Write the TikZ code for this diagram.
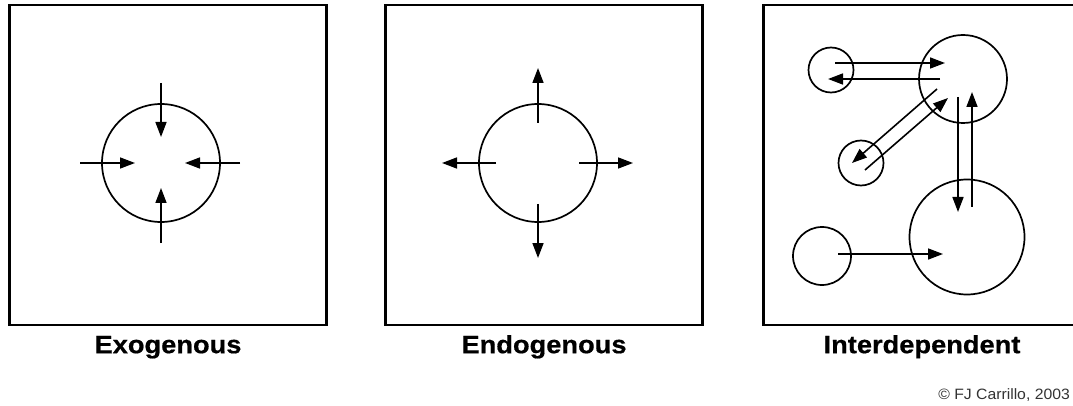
\documentclass[tikz,border=0pt]{standalone}
\usepackage{fontspec}
\newfontfamily\panelfont[FakeStretch=1.09,FakeBold=0.6]{Liberation Sans}
\newfontfamily\creditfont[FakeStretch=1.05]{Liberation Sans}
\usepackage{tikz}
\usetikzlibrary{arrows.meta,positioning,calc}

\begin{document}
\begin{tikzpicture}[x=1pt, y=-1pt,
  panel/.style={rectangle, draw, line width=2.2pt, minimum width=317pt, minimum height=320pt, outer sep=0pt},
  ring/.style={circle, draw, line width=1.7pt, inner sep=0pt, outer sep=0pt},
  flow/.style={line width=1.6pt, -{Triangle[length=15pt,width=11pt]}},
  lbl/.style={draw=none, inner sep=0pt, text height=18pt, text depth=5pt,
    font=\panelfont\bfseries\fontsize{25}{30}\selectfont},
  credit/.style={draw=none, inner sep=0pt, font=\creditfont\fontsize{15}{17}\selectfont, text=black!80}
]
  \useasboundingbox (0,0) rectangle (1073,406);

  % panels
  \node[panel] (P1) at (168,165) {};
  \node[panel] (P2) at (544,165) {};
  \node[panel] (P3) at (922,165) {};
  \node[lbl, below=10pt of P1] (L1) {Exogenous};
  \node[lbl, below=10pt of P2] (L2) {Endogenous};
  \node[lbl, below=10pt of P3] (L3) {Interdependent};

  % exogenous
  \node[ring, minimum size=118pt] (X) at (161,163) {};
  \draw[flow] ($(X)+(0,-80)$) -- ($(X)+(0,-26)$);
  \draw[flow] ($(X)+(0,80)$) -- ($(X)+(0,25)$);
  \draw[flow] ($(X)+(-81,0)$) -- ($(X)+(-26,0)$);
  \draw[flow] ($(X)+(79,0)$) -- ($(X)+(24,0)$);

  % endogenous
  \node[ring, minimum size=118pt] (N) at (538,163) {};
  \draw[flow] ($(N)+(0,-40)$) -- ($(N)+(0,-95)$);
  \draw[flow] ($(N)+(0,41)$) -- ($(N)+(0,95)$);
  \draw[flow] ($(N)+(-42,0)$) -- ($(N)+(-96,0)$);
  \draw[flow] ($(N)+(41,0)$) -- ($(N)+(95,0)$);

  % interdependent
  \node[ring, minimum size=45pt]  (A) at (831,70)  {};
  \node[ring, minimum size=88pt]  (B) at (963,79)  {};
  \node[ring, minimum size=45pt]  (C) at (861,163) {};
  \node[ring, minimum size=115pt] (D) at (967,237) {};
  \node[ring, minimum size=58pt]  (E) at (822,256) {};
  \draw[flow] ($(A)+(4,-7)$)   -- ($(B)+(-18,-16)$);
  \draw[flow] ($(B)+(-23,0)$)  -- ($(A)+(-3,9)$);
  \draw[flow] ($(B)+(-26,10)$) -- ($(C)+(-9,0)$);
  \draw[flow] ($(C)+(4,7)$)    -- ($(B)+(-15,19)$);
  \draw[flow] ($(B)+(-5,18)$)  -- ($(D)+(-9,-25)$);
  \draw[flow] ($(D)+(5,-30)$)  -- ($(B)+(9,13)$);
  \draw[flow] ($(E)+(16,-2)$)  -- ($(D)+(-24,17)$);

  \node[credit, anchor=base east] (CR) at (1070,399) {© FJ Carrillo, 2003};
\end{tikzpicture}
\end{document}
